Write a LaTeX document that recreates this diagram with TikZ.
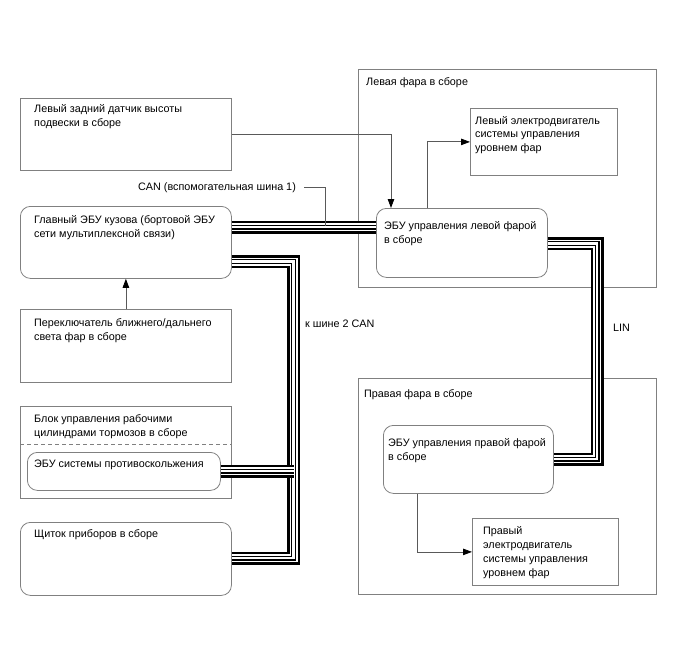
\documentclass[tikz,border=0pt]{standalone}
\usepackage{fontspec}
\setmainfont{Liberation Sans}
\usetikzlibrary{arrows.meta,calc}
\tikzset{
  box/.style={draw=black!50, line width=0.8pt, inner sep=0pt, anchor=north west},
  rbox/.style={box, rounded corners=10pt},
  txt/.style={inner sep=0pt, anchor=north west, align=left, font=\fontsize{10.8}{14}\selectfont},
  conn/.style={draw=black!65, line width=0.8pt},
  arr/.style={conn, -{Triangle[length=9pt,width=6.5pt,color=black]}},
  bus/.style={draw=black, line width=13pt,
    postaction={draw=white, line width=8pt},
    postaction={draw=black, line width=5pt},
    postaction={draw=white, line width=2.5pt}},
}
\begin{document}
\begin{tikzpicture}[x=1pt,y=-1pt]
\useasboundingbox (0,0) rectangle (688,658);
% outer headlamp boxes
\node[box, minimum width=298pt, minimum height=218pt] (lhead) at (358,69) {};
\node[box, minimum width=298pt, minimum height=216pt] (rhead) at (358,378) {};
% left column boxes
\node[box, minimum width=211pt, minimum height=72pt] (sensor) at (20,98) {};
\node[rbox, minimum width=211pt, minimum height=72pt] (main) at (20,206) {};
\node[box, minimum width=211pt, minimum height=73pt] (switch) at (20,309) {};
\node[box, minimum width=211pt, minimum height=92pt] (brake) at (20,406) {};
\node[rbox, minimum width=193pt, minimum height=38pt] (askid) at (27,452) {};
\node[rbox, minimum width=211pt, minimum height=73pt] (cluster) at (20,522) {};
% headlamp internals
\node[box, minimum width=147pt, minimum height=67pt] (lmotor) at (470,108) {};
\node[rbox, minimum width=171pt, minimum height=69pt] (lecu) at (376,208) {};
\node[rbox, minimum width=170pt, minimum height=68pt] (recu) at (383,425) {};
\node[box, minimum width=146pt, minimum height=67pt] (rmotor) at (472,518) {};
\draw[black!50, line width=0.8pt, dash pattern=on 4pt off 3pt] (brake.west |- 0,444) -- (brake.east |- 0,444);
% texts
\node[txt] (tsensor) at (34,102.2) {\strut Левый задний датчик высоты\\подвески в сборе};
\node[txt] (tcan) at (138,180.2) {\strut CAN (вспомогательная шина 1)};
\node[txt] (tmain) at (34,213) {\strut Главный ЭБУ кузова (бортовой ЭБУ\\сети мультиплексной связи)};
\node[txt] (tlhead) at (366,76) {\strut Левая фара в сборе};
\node[txt] (tlmotor) at (475,114) {\strut Левый электродвигатель\\системы управления\\уровнем фар};
\node[txt] (tlecu) at (384,219) {\strut ЭБУ управления левой фарой\\в сборе};
\node[txt] (tswitch) at (34,316) {\strut Переключатель ближнего/дальнего\\света фар в сборе};
\node[txt] (tbus2) at (305,317) {\strut к шине 2 CAN};
\node[txt] (tbrake) at (34,412) {\strut Блок управления рабочими\\цилиндрами тормозов в сборе};
\node[txt] (taskid) at (34,457) {\strut ЭБУ системы противоскольжения};
\node[txt] (tcluster) at (34,527) {\strut Щиток приборов в сборе};
\node[txt] (tlin) at (613,321) {\strut LIN};
\node[txt] (trhead) at (364,387) {\strut Правая фара в сборе};
\node[txt] (trecu) at (388,436) {\strut ЭБУ управления правой фарой\\в сборе};
\node[txt] (trmotor) at (483,524) {\strut Правый\\электродвигатель\\системы управления\\уровнем фар};
% buses
\draw[bus] (main.east |- 0,227) -- (lecu.west |- 0,227);
\draw[bus] (main.east |- 0,261.5) -- (293.5,261.5) -- (293.5,558) -- (cluster.east |- 0,558);
\draw[bus] (askid.east |- 0,471) -- (293.5,471);
\draw[bus] (lecu.east |- 0,243.5) -- (597,243.5) -- (597,459) -- (recu.east |- 0,459);
% connectors
\draw[arr] (sensor.east) -| ([xshift=15pt]lecu.north west);
\draw[arr] ([xshift=51pt]lecu.north west) |- (lmotor.west);
\draw[arr] (switch.north) -- (main.south);
\draw[arr] ([xshift=34pt]recu.south west) |- (rmotor.west);
\draw[conn] ([xshift=8pt]tcan.east) -| (325,226);
\end{tikzpicture}
\end{document}
